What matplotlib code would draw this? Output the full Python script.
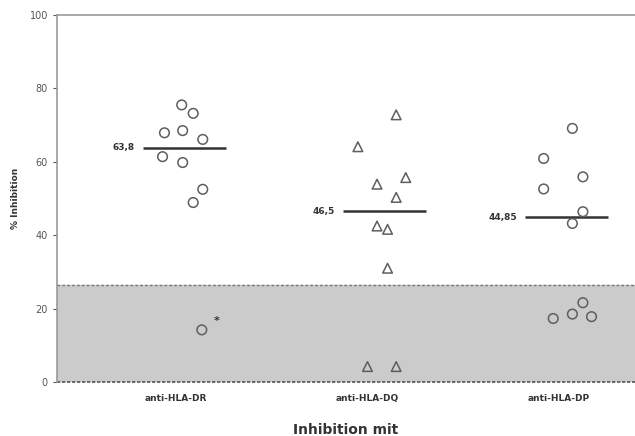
import matplotlib.pyplot as plt
import numpy as np

groups = ["anti-HLA-DR", "anti-HLA-DQ", "anti-HLA-DP"]

dr_vals = [75.5, 73.2, 67.9, 68.5, 66.1, 61.4, 59.8, 52.5, 48.9, 14.2]
dr_jit = [0.03, 0.09, -0.06, 0.035, 0.14, -0.07, 0.035, 0.14, 0.09, 0.135]
dq_vals = [72.8, 64.1, 53.9, 55.7, 50.3, 42.5, 41.6, 31.0, 4.2, 4.2]
dq_jit = [0.15, -0.05, 0.05, 0.2, 0.15, 0.05, 0.105, 0.105, 0.0, 0.15]
dp_vals = [69.1, 60.9, 55.9, 52.6, 46.4, 43.2, 21.6, 18.5, 17.8, 17.3]
dp_jit = [0.07, -0.08, 0.125, -0.08, 0.125, 0.07, 0.125, 0.07, 0.17, -0.03]

means = [63.8, 46.5, 44.85]
mean_labels = ["63,8", "46,5", "44,85"]
mean_shift = [0.044, 0.089, 0.04]
threshold = 26.5

fig = plt.figure(figsize=(6.35, 4.36), dpi=100)
ax = fig.add_axes([0.0898, 0.1239, 0.9102, 0.8417])

pos = np.arange(1, 4)
ax.set_xlim(0.379, 3.397)
ax.set_ylim(0, 100)

# grey background band below the cutoff
ax.axhspan(0, threshold, color="#cbcbcb", zorder=0)
ax.axhline(threshold, color="#777777", ls=(0, (2, 1.5)), lw=1.0, zorder=1)
ax.axhline(0, color="#555555", ls=(0, (2, 1)), lw=1.2, zorder=1, clip_on=False)

mk = dict(s=48, facecolors="none", edgecolors="#5e5e5e", linewidths=1.1, zorder=3)
ax.scatter(pos[0] + np.array(dr_jit), dr_vals, marker="o", **mk)
ax.scatter(pos[1] + np.array(dq_jit), dq_vals, marker="^", **mk)
ax.scatter(pos[2] + np.array(dp_jit), dp_vals, marker="o", **mk)
ax.text(pos[0] + 0.215, 16.6, "*", fontsize=8, color="#333333",
        ha="center", va="center", fontweight="bold")

for p, m, lab, sh in zip(pos, means, mean_labels, mean_shift):
    ax.hlines(m, p + sh - 0.217, p + sh + 0.217, color="#333333", lw=1.8, zorder=2)
    ax.text(p + sh - 0.26, m, lab, fontsize=6.5, fontweight="bold",
            color="#333333", ha="right", va="center")

ax.set_xticks(pos)
ax.set_xticklabels(groups, fontsize=6.5, fontweight="bold", color="#333333")
ax.tick_params(axis="x", length=0, pad=9)
ax.set_yticks(np.arange(0, 101, 20))
ax.tick_params(axis="y", labelsize=7, colors="#555555", length=3, width=0.8)

for s in ["left", "top"]:
    ax.spines[s].set_color("#999999")
    ax.spines[s].set_linewidth(1.2)
ax.spines["right"].set_visible(False)
ax.spines["bottom"].set_visible(False)

ax.set_ylabel("% Inhibition", fontsize=6.5, fontweight="bold", color="#333333", labelpad=7)
ax.set_xlabel("Inhibition mit", fontsize=10, fontweight="bold", color="#333333", labelpad=14)

fig.savefig("out.png", dpi=100)
